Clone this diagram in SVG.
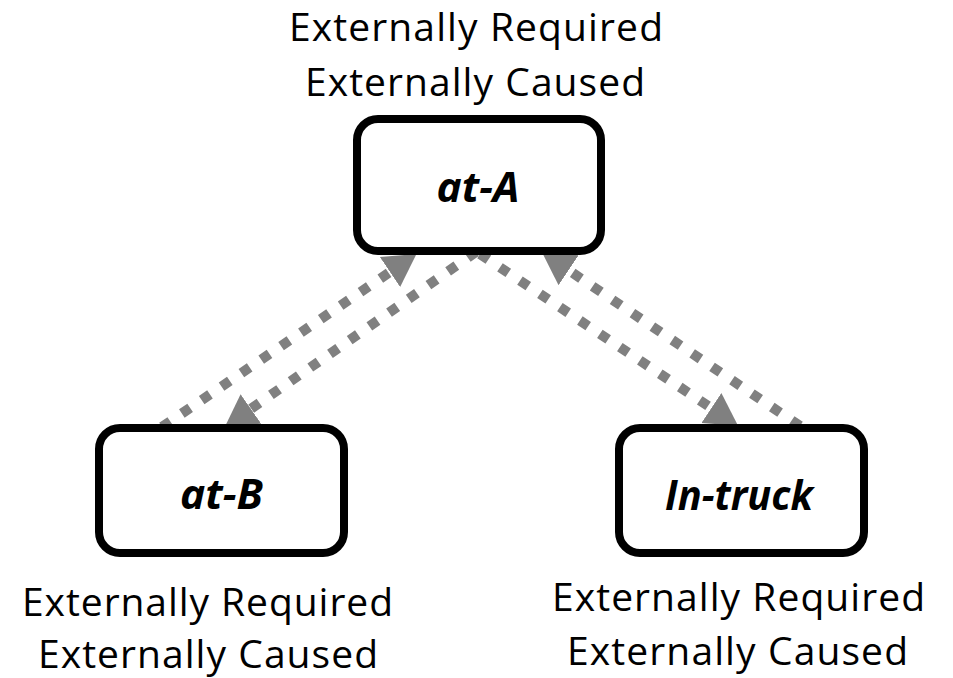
<svg xmlns="http://www.w3.org/2000/svg" width="953" height="678" viewBox="0 0 953 678">
  <style>
    .node rect { fill: #ffffff; stroke: #000000; stroke-width: 8; }
    .node text { font-family: "Open Sans", "Liberation Sans", sans-serif; font-weight: bold; font-style: italic; font-size: 41px; fill: #000000; text-anchor: middle; }
    .note { font-family: "Open Sans", "Liberation Sans", sans-serif; font-size: 39px; fill: #000000; text-anchor: middle; }
    .link { fill: none; stroke: #808080; stroke-width: 10; stroke-dasharray: 10 14; marker-end: url(#head); }
  </style>
  <defs>
    <marker id="head" markerUnits="userSpaceOnUse" markerWidth="34" markerHeight="38" refX="0" refY="19" viewBox="0 0 34 38" orient="auto">
      <path d="M0,1 L32,19 L0,37 z" fill="#808080"/>
    </marker>
  </defs>

  <rect width="953" height="678" fill="#ffffff"/>

  <!-- dotted connectors, drawn first so the boxes cover their ends -->
  <g id="connectors">
    <path class="link" d="M162,427 L390,272"/>
    <path class="link" d="M476,252 L250.9,408.9"/>
    <path class="link" d="M480,254 L711.4,408.1"/>
    <path class="link" d="M800,426 L568.6,270.2"/>
  </g>

  <g id="node-at-A" class="node">
    <rect x="357" y="119" width="244" height="132" rx="21"/>
    <text x="478" y="202" textLength="83" lengthAdjust="spacingAndGlyphs">at-A</text>
  </g>
  <g id="node-at-B" class="node">
    <rect x="99" y="428" width="245" height="125" rx="21"/>
    <text x="221.5" y="509" textLength="83" lengthAdjust="spacingAndGlyphs">at-B</text>
  </g>
  <g id="node-in-truck" class="node">
    <rect x="619" y="428" width="245" height="125" rx="21"/>
    <text x="739" y="510" textLength="148" lengthAdjust="spacingAndGlyphs">In-truck</text>
  </g>

  <!-- annotations -->
  <text class="note" x="476" y="41" textLength="374" lengthAdjust="spacing">Externally Required</text>
  <text class="note" x="475" y="96" textLength="340" lengthAdjust="spacing">Externally Caused</text>
  <text class="note" x="207.5" y="616" textLength="371" lengthAdjust="spacing">Externally Required</text>
  <text class="note" x="208" y="668" textLength="340" lengthAdjust="spacing">Externally Caused</text>
  <text class="note" x="738.5" y="611" textLength="373" lengthAdjust="spacing">Externally Required</text>
  <text class="note" x="737.5" y="665" textLength="341" lengthAdjust="spacing">Externally Caused</text>
</svg>
